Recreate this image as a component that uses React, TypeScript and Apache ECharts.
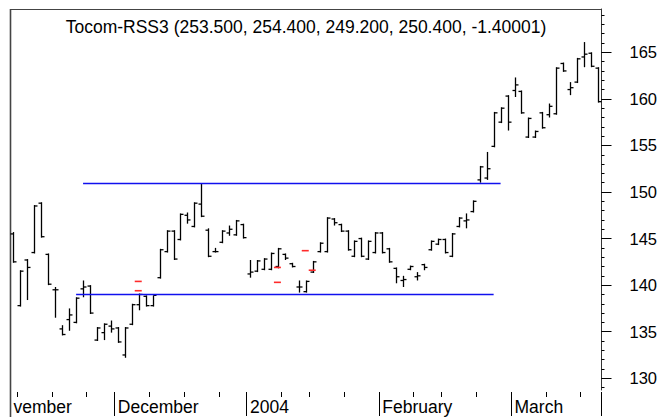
import React, { useEffect, useRef } from "react";
import * as echarts from "echarts";

const FONT = "'Liberation Sans', Arial, Helvetica, sans-serif";

const titleText = "Tocom-RSS3 (253.500, 254.400, 249.200, 250.400, -1.40001)";

const openPrices = [
  145.5, 137.8, 142.7, 143.5, 148.8, 143.3, 139.5, 135.3, 136.3, 136.0,
  139.6, 139.9, 134.1, 134.9, 135.6, 135.4, 132.5, 135.8, 137.9, 138.8,
  137.8, 140.8, 143.6, 145.8, 144.9, 147.5, 146.3, 148.7, 145.9, 143.6,
  144.6, 145.6, 145.4, 146.5, 141.2, 141.5, 141.7, 141.7, 142.0, 143.3,
  142.3, 139.8, 139.3, 141.4, 143.6, 143.6, 147.1, 146.5, 145.8, 143.1,
  145.0, 142.8, 143.5, 145.6, 143.9, 141.8, 140.5, 141.7, 140.9, 142.2,
  143.8, 144.4, 144.9, 143.1, 146.3, 146.9, 147.9, 151.3, 151.5, 154.9,
  157.5, 160.3, 160.9, 160.8, 155.9, 155.9, 158.5, 158.3, 158.4, 163.8,
  161.0, 161.8, 164.5, 164.9, 163.3,
];
const highPrices = [
  145.7, 141.6, 142.8, 148.6, 148.9, 143.4, 139.8, 135.7, 137.5, 138.7,
  140.5, 140.0, 135.5, 135.9, 136.2, 135.5, 135.5, 138.0, 139.1, 138.9,
  138.9, 143.9, 145.9, 145.9, 147.7, 147.8, 148.9, 150.9, 146.1, 144.0,
  145.9, 146.4, 147.0, 146.6, 142.7, 142.7, 142.9, 143.5, 144.0, 143.4,
  142.4, 140.5, 140.5, 142.6, 144.6, 147.3, 147.2, 146.6, 145.9, 144.8,
  145.1, 144.8, 145.7, 145.7, 144.0, 141.9, 141.0, 142.1, 141.4, 142.3,
  144.8, 145.0, 145.0, 145.6, 147.3, 147.7, 149.1, 152.8, 154.3, 158.6,
  159.1, 160.4, 162.3, 160.9, 158.0, 156.6, 158.6, 159.5, 163.4, 163.9,
  161.8, 164.4, 166.1, 165.0, 163.4,
];
const lowPrices = [
  142.4, 137.7, 138.4, 143.4, 145.1, 140.0, 136.5, 134.6, 135.1, 135.9,
  138.7, 136.9, 134.0, 134.1, 134.9, 133.8, 132.2, 135.7, 137.3, 137.7,
  137.7, 140.7, 143.5, 142.7, 144.8, 146.6, 146.2, 147.3, 143.0, 143.5,
  144.5, 145.3, 145.3, 145.0, 140.8, 141.4, 141.6, 141.6, 141.8, 142.7,
  141.9, 139.2, 139.2, 141.3, 143.5, 143.5, 146.4, 145.7, 143.7, 143.0,
  143.0, 142.7, 143.4, 143.4, 142.4, 140.2, 139.8, 141.6, 140.5, 141.6,
  143.7, 144.3, 143.4, 143.0, 146.2, 146.1, 147.8, 151.0, 151.3, 154.8,
  157.4, 156.6, 160.2, 158.4, 155.8, 155.8, 156.8, 158.0, 158.3, 162.9,
  160.4, 161.7, 163.4, 163.4, 159.6,
];
const closePrices = [
  142.5, 141.5, 141.9, 148.5, 145.2, 140.1, 139.5, 134.7, 136.8, 138.6,
  139.8, 137.0, 135.4, 135.8, 135.3, 133.9, 135.4, 137.9, 139.0, 137.8,
  138.9, 143.8, 145.8, 142.8, 147.6, 147.0, 148.8, 147.4, 143.1, 143.6,
  145.8, 146.0, 146.9, 145.1, 141.4, 142.6, 142.8, 143.4, 143.9, 142.9,
  142.0, 139.8, 140.4, 142.5, 144.5, 147.2, 146.7, 145.8, 143.8, 144.7,
  143.1, 144.7, 145.6, 143.5, 142.5, 140.9, 140.6, 142.0, 141.0, 141.9,
  144.7, 144.9, 143.5, 145.5, 147.2, 147.0, 149.0, 152.7, 152.5, 158.5,
  159.0, 157.5, 161.5, 158.5, 157.9, 156.5, 156.9, 159.2, 163.3, 163.0,
  161.2, 164.3, 164.8, 163.5, 159.7,
];

const dayCategories = openPrices.map((_, i) => String(i + 1));

const monthStartIndex = [0, 15, 34, 53, 72];
const monthLabels = ["vember", "December", "2004", "February", "March"];
const weekTickIndex = [1, 6, 11, 20, 25, 30, 39, 43, 48, 58, 62, 67, 77, 82];

const yMajorTicks = [130, 135, 140, 145, 150, 155, 160, 165];
const yMinorTicks = [
  129, 130, 131, 132, 133, 134, 135, 136, 137, 138, 139, 140, 141, 142, 143,
  144, 145, 146, 147, 148, 149, 150, 151, 152, 153, 154, 155, 156, 157, 158,
  159, 160, 161, 162, 163, 164, 165, 166, 167, 168, 169,
];

const resistanceLine = [
  [10, 150.9],
  [70, 150.9],
];
const supportLine = [
  [9, 139.0],
  [69, 139.0],
];

const signalIndex = [18, 18, 38, 38, 42, 43];
const signalValue = [140.4, 139.4, 141.9, 140.3, 143.7, 141.6];

export default function App() {
  const ref = useRef<HTMLDivElement>(null);

  useEffect(() => {
    if (!ref.current) return;
    const chart = echarts.init(ref.current, undefined, { renderer: "svg" });

    const ohlcData = openPrices.map((o, i) => [
      i,
      o,
      highPrices[i],
      lowPrices[i],
      closePrices[i],
    ]);
    const signalData = signalIndex.map((idx, i) => [idx, signalValue[i]]);

    const option: any = {
      animation: false,
      backgroundColor: "#ffffff",
      title: {
        text: titleText,
        left: 306,
        top: 18,
        padding: 0,
        textAlign: "center",
        textStyle: {
          fontFamily: FONT,
          fontSize: 17.5,
          fontWeight: "normal",
          color: "#000000",
        },
      },
      grid: { left: 10, right: 61.5, top: 9, bottom: 27, containLabel: false },
      xAxis: [
        {
          type: "category",
          data: dayCategories,
          boundaryGap: true,
          position: "bottom",
          offset: 2,
          axisLine: { show: false },
          axisTick: {
            show: true,
            length: 5,
            interval: (i: number) => weekTickIndex.indexOf(i) >= 0,
            lineStyle: { color: "#000", width: 1 },
          },
          axisLabel: { show: false },
          splitLine: { show: false },
        },
        {
          type: "category",
          data: dayCategories,
          boundaryGap: true,
          position: "bottom",
          offset: 2,
          axisLine: { show: false },
          axisTick: {
            show: true,
            length: 24,
            interval: (i: number) => monthStartIndex.indexOf(i) > 0,
            lineStyle: { color: "#000", width: 1 },
          },
          axisLabel: {
            show: true,
            interval: (i: number) => monthStartIndex.indexOf(i) >= 0,
            formatter: (_v: string, i: number) => {
              const k = monthStartIndex.indexOf(i);
              return k >= 0 ? monthLabels[k] : "";
            },
            align: "left",
            margin: 6,
            fontFamily: FONT,
            fontSize: 17.5,
            color: "#000",
          },
          splitLine: { show: false },
        },
      ],
      yAxis: [
        {
          type: "value",
          position: "right",
          min: 128.74,
          max: 169.65,
          axisLine: { show: true, lineStyle: { color: "#333", width: 1 } },
          axisTick: {
            show: true,
            length: 10,
            customValues: yMajorTicks,
            lineStyle: { color: "#000", width: 1 },
          },
          axisLabel: {
            show: true,
            customValues: yMajorTicks,
            margin: 28,
            fontFamily: FONT,
            fontSize: 16.5,
            color: "#000",
          },
          splitLine: { show: false },
        },
        {
          type: "value",
          position: "right",
          min: 128.74,
          max: 169.65,
          axisLine: { show: false },
          axisTick: {
            show: true,
            length: 3,
            customValues: yMinorTicks,
            lineStyle: { color: "#000", width: 1 },
          },
          axisLabel: { show: false },
          splitLine: { show: false },
        },
      ],
      graphic: [
        {
          type: "line",
          shape: { x1: 10.5, y1: 9, x2: 10.5, y2: 417 },
          style: { stroke: "#444", lineWidth: 1.6 },
        },
        {
          type: "line",
          shape: { x1: 10, y1: 9.5, x2: 602, y2: 9.5 },
          style: { stroke: "#444", lineWidth: 1 },
        },
      ],
      series: [
        {
          type: "custom",
          name: "OHLC",
          xAxisIndex: 0,
          yAxisIndex: 0,
          data: ohlcData,
          encode: { x: 0, y: [1, 2, 3, 4] },
          renderItem: (_params: any, api: any) => {
            const i = api.value(0);
            const o = api.coord([i, api.value(1)]);
            const h = api.coord([i, api.value(2)]);
            const l = api.coord([i, api.value(3)]);
            const c = api.coord([i, api.value(4)]);
            const x = Math.round(h[0]) + 0.5;
            const style = { stroke: "#000", lineWidth: 1.3 };
            return {
              type: "group",
              children: [
                { type: "line", shape: { x1: x, y1: h[1], x2: x, y2: l[1] }, style },
                { type: "line", shape: { x1: x - 3, y1: o[1], x2: x, y2: o[1] }, style },
                { type: "line", shape: { x1: x, y1: c[1], x2: x + 3, y2: c[1] }, style },
              ],
            };
          },
        },
        {
          type: "custom",
          name: "signals",
          xAxisIndex: 0,
          yAxisIndex: 0,
          data: signalData,
          encode: { x: 0, y: 1 },
          renderItem: (_params: any, api: any) => {
            const p = api.coord([api.value(0), api.value(1)]);
            return {
              type: "line",
              shape: { x1: p[0] - 4, y1: p[1], x2: p[0] + 3, y2: p[1] },
              style: { stroke: "#ff2a2a", lineWidth: 1.6 },
            };
          },
        },
        {
          type: "line",
          name: "resistance",
          xAxisIndex: 0,
          yAxisIndex: 0,
          data: resistanceLine,
          symbol: "none",
          lineStyle: { color: "#1010ee", width: 1.5 },
        },
        {
          type: "line",
          name: "support",
          xAxisIndex: 0,
          yAxisIndex: 0,
          data: supportLine,
          symbol: "none",
          lineStyle: { color: "#1010ee", width: 1.5 },
        },
      ],
    };

    chart.setOption(option);
    return () => {
      chart.dispose();
    };
  }, []);

  return (
    <div
      ref={ref}
      style={{ position: "fixed", left: 0, top: 0, width: 663, height: 417, background: "#fff" }}
    />
  );
}
